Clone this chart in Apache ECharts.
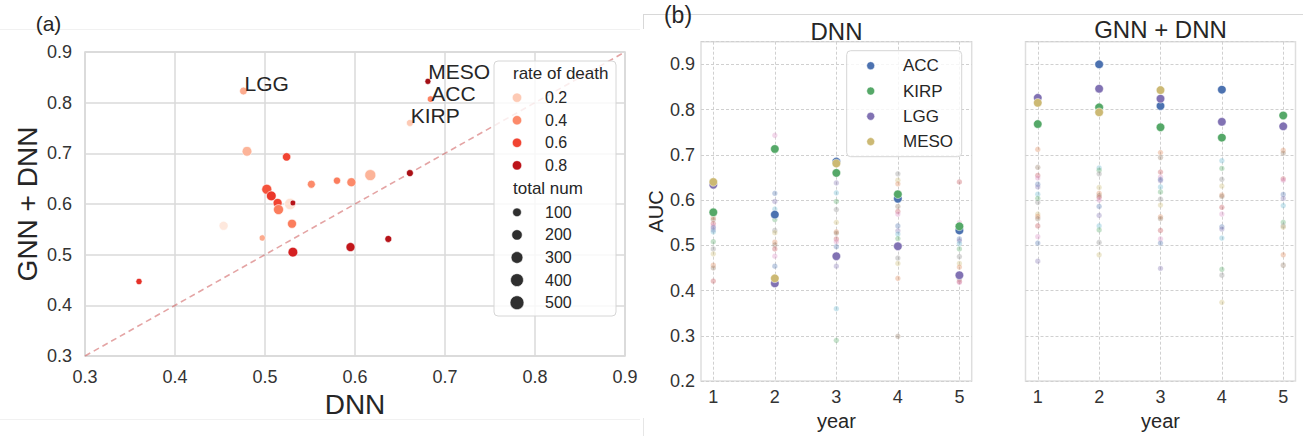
<!DOCTYPE html>
<html><head><meta charset="utf-8">
<script src="https://cdn.jsdelivr.net/npm/echarts@6/dist/echarts.min.js"></script>
<style>html,body{margin:0;padding:0;background:#fff}#c{width:1303px;height:436px}</style>
</head><body><div id="c"></div>
<script>
// ================= DATA =================
// Panel (a): per-cancer AUC, DNN vs GNN + DNN
const dnnAUC   = [0.476,0.480,0.524,0.5515,0.580,0.596,0.617,0.661,0.502,0.507,0.514,0.515,0.528,0.531,0.530,0.454,0.497,0.531,0.595,0.637,0.360,0.681,0.684,0.661];
const gnnAUC   = [0.823,0.704,0.693,0.639,0.646,0.643,0.657,0.661,0.629,0.616,0.602,0.589,0.600,0.602,0.561,0.557,0.533,0.505,0.515,0.531,0.447,0.842,0.807,0.760];
const deathRate= [0.30,0.27,0.60,0.40,0.44,0.40,0.27,0.86,0.56,0.64,0.60,0.44,0.12,0.82,0.44,0.08,0.30,0.72,0.78,0.82,0.66,0.88,0.42,0.20];
const totalNum = [58,153,82,69,44,115,240,35,171,153,115,171,262,8,115,115,18,153,115,35,18,13,27,35];
const cancerLabel = ['LGG','','','','','','','','','','','','','','','','','','','','','MESO','ACC','KIRP'];
const diagEnds = [0.3, 0.9];
const rateLegend = [0.2, 0.4, 0.6, 0.8];
const numLegend = [100, 200, 300, 400, 500];

// Panel (b): AUC by year
const years = [1, 2, 3, 4, 5];
const highlightNames = ['ACC', 'KIRP', 'LGG', 'MESO'];
const dnnACC  = [null, 0.568, 0.685, 0.603, 0.533];
const dnnKIRP = [0.573, 0.713, 0.660, 0.613, 0.542];
const dnnLGG  = [0.634, 0.416, 0.476, 0.498, 0.434];
const dnnMESO = [0.640, 0.427, 0.681, null, null];
const gnnACC  = [null, 0.900, 0.808, 0.844, null];
const gnnKIRP = [0.768, 0.805, 0.761, 0.738, 0.787];
const gnnLGG  = [0.826, 0.846, 0.824, 0.773, 0.763];
const gnnMESO = [0.815, 0.794, 0.843, null, null];

// other cancer types (faint points), one list per year
const dnnOther1 = [0.561,0.557,0.548,0.543,0.539,0.534,0.530,0.508,0.492,0.481,0.456,0.450,0.421];
const dnnOther2 = [0.743,0.615,0.597,0.580,0.557,0.533,0.528,0.507,0.501,0.492,0.476,0.454];
const dnnOther3 = [0.638,0.616,0.597,0.579,0.551,0.530,0.527,0.514,0.508,0.497,0.454,0.360,0.290];
const dnnOther4 = [0.658,0.644,0.636,0.586,0.575,0.569,0.543,0.532,0.525,0.515,0.472,0.460,0.427,0.299];
const dnnOther5 = [0.640,0.550,0.514,0.510,0.504,0.492,0.475,0.460,0.452,0.425,0.420,0.418];
const gnnOther1 = [0.712,0.6725,0.6545,0.649,0.635,0.629,0.613,0.604,0.595,0.569,0.564,0.559,0.543,0.519,0.505,0.465];
const gnnOther2 = [0.671,0.666,0.658,0.628,0.615,0.610,0.606,0.600,0.586,0.566,0.543,0.534,0.5065,0.479];
const gnnOther3 = [0.705,0.694,0.662,0.651,0.646,0.643,0.629,0.618,0.602,0.589,0.563,0.559,0.533,0.514,0.505,0.449];
const gnnOther4 = [0.687,0.670,0.646,0.631,0.611,0.608,0.584,0.569,0.541,0.536,0.516,0.447,0.434,0.374];
const gnnOther5 = [0.710,0.704,0.647,0.644,0.6125,0.604,0.588,0.551,0.543,0.540,0.479,0.456];

// ================= STYLE =================
const FONT = '"Liberation Sans", Arial, sans-serif';
const TXT = '#262626';
const REDS = ['#fff5f0','#fee0d2','#fcbba1','#fc9272','#fb6a4a','#ef3b2c','#cb181d','#a50f15','#67000d'];
const HL_COLORS = ['#4C72B0', '#55A868', '#8172B3', '#CCB974'];
const FAINT = ['#DD8452','#937860','#C44E52','#DA8BC3','#4C72B0','#8172B3','#64B5CD','#55A868','#8C8C8C','#CCB974'];
const LABEL_NUDGE = {MESO: -10, ACC: -6, LGG: -8, KIRP: -7};
const sizeOf = n => 4.5 + 0.42 * Math.sqrt(n);
const fmt1 = v => (Math.round(v * 10) / 10).toFixed(1);

// ================= BUILD =================
const scatterA = dnnAUC.map((x, i) => {
  const item = {value: [x, gnnAUC[i], deathRate[i], totalNum[i], cancerLabel[i]]};
  if (cancerLabel[i]) item.label = {offset: [-3, LABEL_NUDGE[cancerLabel[i]] || -8]};
  return item;
});
const toPairs = arr => years.map((y, i) => [y, arr[i]]).filter(p => p[1] != null);
const othersToPairs = lists => {
  const out = [];
  lists.forEach((lst, yi) => lst.forEach(v => out.push([years[yi], v])));
  return out;
};
const dnnOthers = othersToPairs([dnnOther1, dnnOther2, dnnOther3, dnnOther4, dnnOther5]);
const gnnOthers = othersToPairs([gnnOther1, gnnOther2, gnnOther3, gnnOther4, gnnOther5]);

const chart = echarts.init(document.getElementById('c'), null, {renderer: 'svg'});

const gridA = {left: 85, top: 52, width: 540, height: 304};
const gridB1 = {left: 701, top: 41.7, width: 270.7, height: 346.6};
const gridB2 = {left: 1025.5, top: 41.7, width: 270, height: 346.6};

function gridStyle(g, border) {
  return Object.assign({show: true, borderColor: border, borderWidth: 1.5, backgroundColor: '#fff', containLabel: false}, g);
}

const axisA = (name, isY) => ({
  type: 'value', gridIndex: 0, min: 0.3, max: 0.9, interval: 0.1,
  name: name, nameLocation: 'middle', nameGap: isY ? 44 : 28,
  nameTextStyle: {fontSize: 28, color: TXT, fontFamily: FONT},
  axisLine: {show: false}, axisTick: {show: false},
  axisLabel: {fontSize: 18, color: '#333', fontFamily: FONT, margin: isY ? 13 : 12, formatter: fmt1},
  splitLine: {show: true, lineStyle: {color: '#dadada', width: 1.5}}
});

const xAxisB = (gi) => ({
  type: 'value', gridIndex: gi, min: 0.8, max: 5.2,
  name: 'year', nameLocation: 'middle', nameGap: 24,
  nameTextStyle: {fontSize: 20, color: TXT, fontFamily: FONT},
  axisLine: {show: false},
  axisTick: {show: false, customValues: years},
  axisLabel: {fontSize: 18, color: '#333', fontFamily: FONT, margin: 7, customValues: years, formatter: v => String(Math.round(v))},
  splitLine: {show: true, lineStyle: {color: '#d0d0d0', width: 1, type: [3, 2]}}
});
const yAxisB = (gi, showLabels) => ({
  type: 'value', gridIndex: gi, min: 0.2, max: 0.95, interval: 0.1,
  name: showLabels ? 'AUC' : '', nameLocation: 'middle', nameGap: 33,
  nameTextStyle: {fontSize: 20, color: TXT, fontFamily: FONT},
  axisLine: {show: false}, axisTick: {show: false},
  axisLabel: {show: showLabels, fontSize: 18, color: '#333', fontFamily: FONT, margin: 6, showMaxLabel: false,
    formatter: v => v > 0.92 ? '' : fmt1(v)},
  splitLine: {show: true, lineStyle: {color: '#d0d0d0', width: 1, type: [3, 2]}}
});

const series = [];
// diagonal
series.push({
  type: 'line', xAxisIndex: 0, yAxisIndex: 0, data: [[diagEnds[0], diagEnds[0]], [diagEnds[1], diagEnds[1]]],
  symbol: 'none', silent: true, z: 2,
  lineStyle: {color: 'rgba(205,90,90,0.55)', width: 1.6, type: [6, 4]}
});
// scatter (a)
series.push({
  type: 'scatter', xAxisIndex: 0, yAxisIndex: 0, data: scatterA, z: 3,
  symbolSize: v => sizeOf(v[3]),
  itemStyle: {color: p => echarts.color.lerp(p.value[2], REDS), borderColor: '#fff', borderWidth: 0.6, opacity: 1},
  label: {show: true, formatter: p => p.value[4], position: 'right', distance: 0, offset: [-3, -8],
    fontSize: 21, lineHeight: 16, color: TXT, fontFamily: FONT},
  emphasis: {disabled: true}
});
// faint (b)
[[1, dnnOthers], [2, gnnOthers]].forEach(([gi, data]) => {
  series.push({
    type: 'scatter', xAxisIndex: gi, yAxisIndex: gi, data: data, z: 2, symbolSize: 5.5,
    itemStyle: {color: p => FAINT[p.dataIndex % FAINT.length], opacity: 0.35, borderColor: '#fff', borderWidth: 0.5},
    emphasis: {disabled: true}, silent: true
  });
});
// highlighted (b)
const hlDNN = [dnnACC, dnnKIRP, dnnLGG, dnnMESO];
const hlGNN = [gnnACC, gnnKIRP, gnnLGG, gnnMESO];
[[1, hlDNN], [2, hlGNN]].forEach(([gi, sets]) => {
  sets.forEach((arr, k) => {
    series.push({
      type: 'scatter', name: highlightNames[k], xAxisIndex: gi, yAxisIndex: gi, data: toPairs(arr), z: 4,
      symbolSize: 8.5,
      itemStyle: {color: HL_COLORS[k], opacity: 1, borderColor: '#fff', borderWidth: 0.5},
      emphasis: {disabled: true}
    });
  });
});

// ---- graphics: legends, panel labels, titles, frame lines ----
const graphics = [];
const T = (text, x, y, size, align, extra) => Object.assign({
  type: 'text', x: x, y: y, z: 100,
  style: {text: text, fontSize: size, fontFamily: FONT, fill: TXT, textAlign: align || 'left', textVerticalAlign: 'middle'}
}, extra || {});
// faint page edges
const L = (x1, y1, x2, y2, c) => ({type: 'line', z: 1, shape: {x1, y1, x2, y2}, style: {stroke: c, lineWidth: 1}});
graphics.push(L(0, 29.5, 640, 29.5, '#f1f1f1'));
graphics.push(L(0, 419.5, 640, 419.5, '#f1f1f1'));
graphics.push(L(643, 14.5, 1303, 14.5, '#d8d8d8'));
graphics.push(L(643.5, 14.5, 643.5, 29, '#d8d8d8'));
graphics.push(L(643.5, 418, 643.5, 436, '#e6e6e6'));

graphics.push(T('(a)', 48.5, 23, 21, 'center'));
graphics.push(T('(b)', 678, 15, 23, 'center'));
graphics.push(T('DNN', 836.5, 31, 24, 'center'));
graphics.push(T('GNN + DNN', 1160.5, 29, 24, 'center'));

// legend (a)
graphics.push({type: 'rect', z: 90, shape: {x: 494, y: 61, width: 122, height: 255, r: 4},
  style: {fill: 'rgba(255,255,255,0.8)', stroke: '#d6d6d6', lineWidth: 1}});
graphics.push(T('rate of death', 513, 73, 17, 'left'));
rateLegend.forEach((r, i) => {
  const cy = 97.7 + i * 22.55;
  graphics.push({type: 'circle', z: 100, shape: {cx: 517, cy: cy, r: 4.7},
    style: {fill: echarts.color.lerp(r, REDS), stroke: '#fff', lineWidth: 0.6}});
  graphics.push(T(String(r), 545, cy, 16, 'left'));
});
graphics.push(T('total num', 513, 188.7, 17, 'left'));
numLegend.forEach((n, i) => {
  const cy = 212.3 + i * 22.6;
  graphics.push({type: 'circle', z: 100, shape: {cx: 517, cy: cy, r: sizeOf(n) / 2},
    style: {fill: '#2f2f2f', stroke: '#fff', lineWidth: 0.6}});
  graphics.push(T(String(n), 545, cy, 16, 'left'));
});

// legend (b)
graphics.push({type: 'rect', z: 90, shape: {x: 846.7, y: 50.7, width: 115, height: 106, r: 4},
  style: {fill: 'rgba(255,255,255,0.8)', stroke: '#d6d6d6', lineWidth: 1}});
highlightNames.forEach((nm, i) => {
  const cy = 65.7 + i * 25.3;
  graphics.push({type: 'circle', z: 100, shape: {cx: 870.7, cy: cy, r: 4},
    style: {fill: HL_COLORS[i], stroke: '#fff', lineWidth: 0.5}});
  graphics.push(T(nm, 903, cy, 17, 'left'));
});

chart.setOption({
  backgroundColor: '#fff',
  animation: false,
  textStyle: {fontFamily: FONT},
  grid: [gridStyle(gridA, '#d6d6d6'), gridStyle(gridB1, '#dedede'), gridStyle(gridB2, '#dedede')],
  xAxis: [axisA('DNN', false), xAxisB(1), xAxisB(2)],
  yAxis: [axisA('GNN + DNN', true), yAxisB(1, true), yAxisB(2, false)],
  series: series,
  graphic: graphics
});
</script>
</body></html>
